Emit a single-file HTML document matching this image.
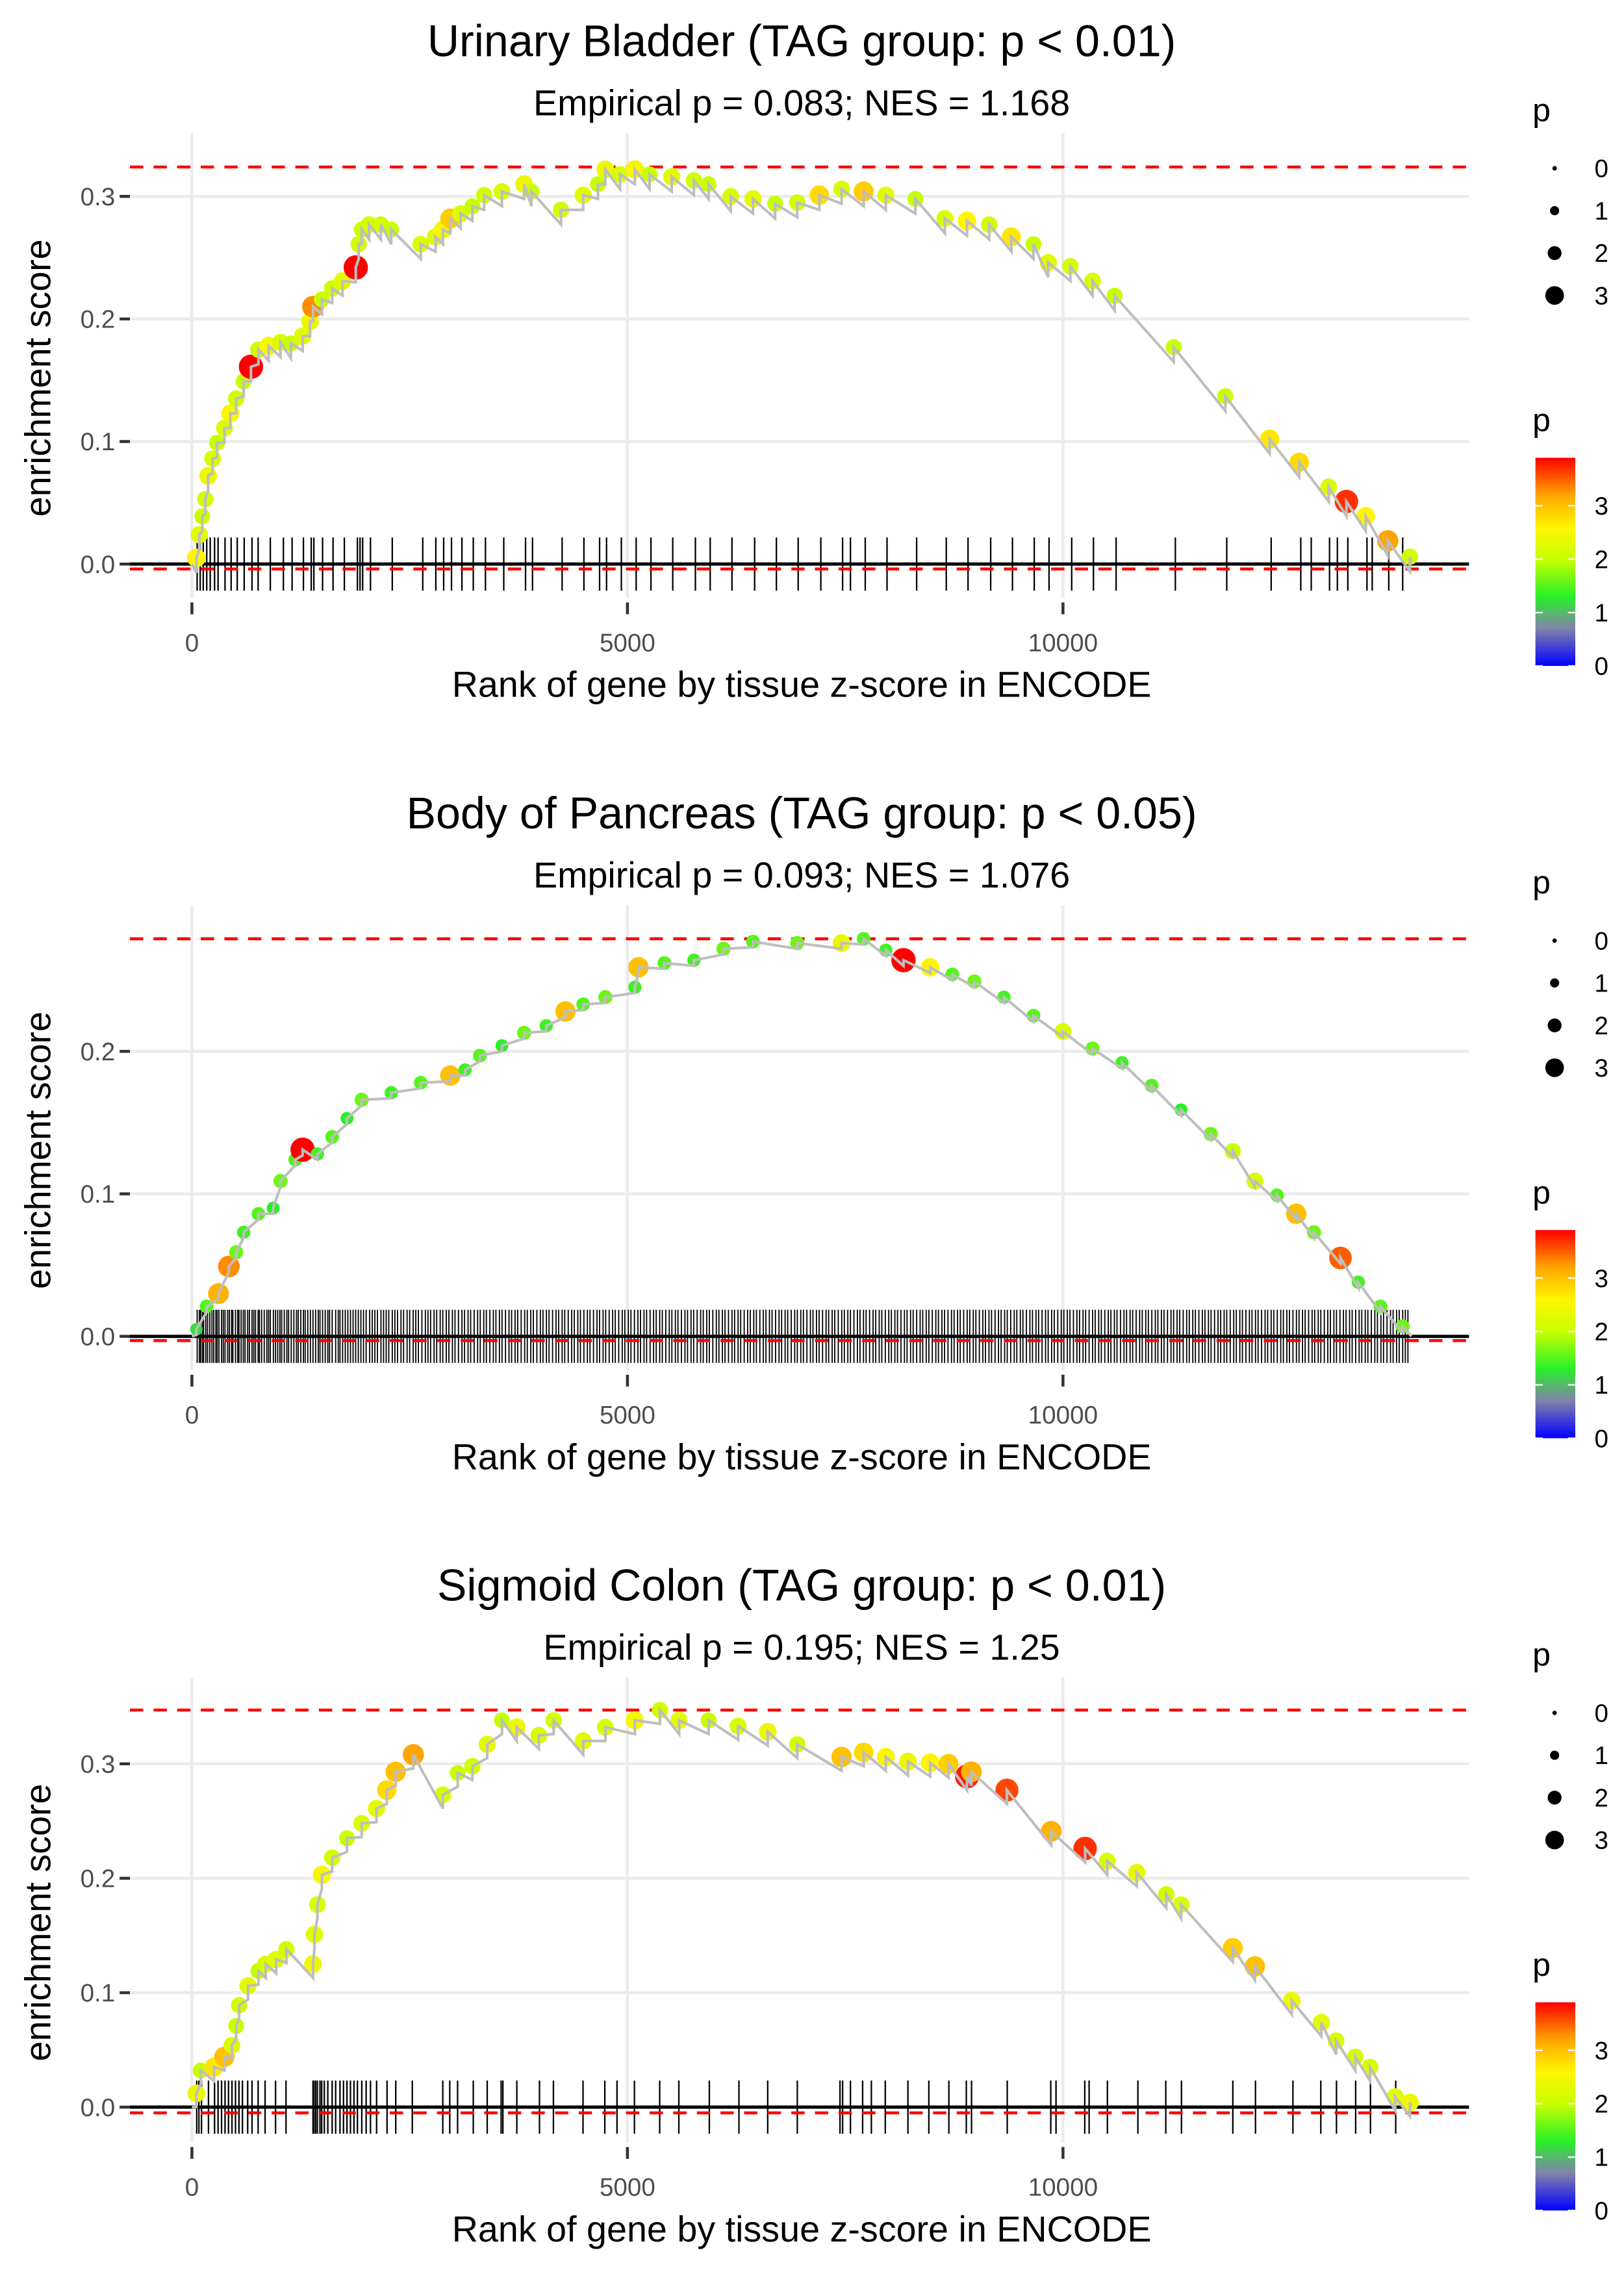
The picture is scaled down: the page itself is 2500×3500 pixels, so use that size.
<!DOCTYPE html>
<html><head><meta charset="utf-8"><style>html,body{margin:0;padding:0;background:#fff}svg{display:block}</style></head>
<body>
<svg id="chart" xmlns="http://www.w3.org/2000/svg" width="2500" height="3500" viewBox="0 0 1100 1540" font-family="Liberation Sans, sans-serif"></svg>
<script>
// ---------- Panel 1: Urinary Bladder ----------
const p1Ranks=[51,85,119,153,186,237,288,373,441,508,593,678,763,881,1017,1136,1271,1356,1390,1492,1610,1729,1881,1915,1949,2034,2169,2288,2627,2797,2881,2966,3085,3220,3356,3559,3814,3898,4237,4492,4661,4746,4915,5085,5254,5508,5763,5932,6186,6441,6695,6949,7203,7458,7712,7966,8305,8644,8898,9153,9407,9661,9831,10085,10339,10593,11271,11864,12373,12712,13051,13254,13475,13729,13983];
const p1ES=[.005,.024,.039,.053,.072,.086,.099,.111,.123,.135,.149,.161,.175,.178,.181,.180,.186,.198,.210,.216,.225,.231,.242,.261,.273,.277,.277,.273,.261,.267,.273,.282,.286,.292,.301,.304,.310,.304,.289,.301,.310,.322,.318,.322,.318,.316,.313,.310,.300,.298,.294,.295,.301,.306,.304,.301,.298,.282,.280,.277,.267,.261,.246,.243,.231,.219,.177,.137,.102,.083,.063,.051,.039,.019,.006];
const p1P=[2.6,2.3,2.0,2.1,2.4,2.2,2.0,2.2,2.5,2.1,2.0,3.9,2.1,2.5,2.2,2.0,2.3,2.4,3.3,2.0,2.1,2.3,3.9,2.1,2.0,2.2,2.1,2.0,2.2,2.3,2.5,2.9,2.2,2.0,2.1,2.2,2.4,2.0,2.1,2.3,2.0,2.4,2.2,2.5,2.0,2.3,2.1,2.0,2.2,2.3,2.0,2.1,2.8,2.2,2.9,2.3,2.0,2.2,2.6,2.1,2.7,2.0,2.3,2.1,2.2,2.0,2.0,2.0,2.7,2.8,2.2,3.7,2.6,3.2,2.1];
const p1Ticks=[60,95,130,170,210,260,300,380,450,520,600,690,760,900,1050,1150,1280,1370,1400,1500,1620,1750,1900,1930,1960,2050,2300,2650,2800,2890,2980,3100,3230,3370,3580,3830,3910,4250,4500,4680,4760,4930,5100,5270,5520,5780,5950,6200,6460,6710,6960,7220,7470,7560,7730,7980,8320,8660,8910,9170,9420,9670,9840,10100,10350,10610,11290,11880,12390,12730,12850,13060,13150,13270,13490,13550,13740,13900];
// ---------- Panel 2: Body of Pancreas ----------
const p2Ranks=[51,169,305,424,508,593,763,932,1017,1186,1271,1441,1610,1780,1949,2288,2627,2966,3136,3305,3559,3814,4068,4288,4492,4746,5085,5127,5424,5763,6102,6441,6949,7458,7712,7966,8169,8475,8729,8983,9322,9661,10000,10339,10678,11017,11356,11695,11949,12203,12458,12678,12881,13186,13390,13644,13898];
const p2ES=[.005,.021,.030,.049,.059,.073,.086,.090,.109,.124,.131,.128,.140,.153,.166,.171,.178,.183,.187,.197,.204,.213,.218,.228,.233,.238,.245,.259,.262,.264,.272,.277,.276,.276,.279,.271,.264,.259,.254,.249,.238,.225,.214,.202,.192,.176,.159,.142,.130,.109,.099,.086,.073,.055,.038,.021,.007];
const p2P=[1.2,1.5,3.1,3.3,1.6,1.4,1.5,1.3,1.6,1.5,3.9,1.4,1.5,1.3,1.6,1.4,1.5,3.0,1.4,1.5,1.3,1.6,1.4,3.0,1.5,1.6,1.4,3.0,1.5,1.4,1.6,1.5,1.6,2.4,1.5,1.4,3.9,2.6,1.5,1.6,1.4,1.5,2.2,1.6,1.4,1.5,1.3,1.6,2.0,2.2,1.5,3.0,1.6,3.5,1.4,1.5,1.6];
const p2Ticks=[60,85,100,120,135,160,180,205,230,250,275,290,310,340,360,380,410,430,455,470,500,525,540,565,590,610,640,660,690,710,730,760,775,800,830,860,880,900,935,960,985,1010,1030,1060,1090,1110,1140,1170,1200,1220,1250,1280,1300,1330,1360,1390,1420,1450,1470,1500,1530,1560,1580,1610,1650,1680,1700,1730,1760,1790,1820,1850,1880,1910,1940,1970,2000,2040,2070,2100,2130,2170,2200,2230,2260,2300,2330,2360,2400,2430,2470,2500,2540,2570,2600,2640,2680,2710,2740,2780,2810,2850,2880,2920,2950,2990,3020,3060,3100,3130,3170,3200,3240,3280,3310,3350,3380,3420,3460,3490,3530,3560,3600,3640,3670,3710,3740,3780,3820,3850,3890,3920,3960,4000,4030,4070,4100,4140,4180,4210,4250,4280,4320,4360,4390,4430,4460,4500,4540,4570,4610,4650,4680,4720,4750,4790,4830,4860,4900,4940,4970,5010,5040,5080,5120,5150,5190,5220,5260,5300,5330,5370,5400,5440,5480,5510,5550,5580,5620,5660,5690,5730,5760,5800,5840,5870,5910,5940,5980,6020,6050,6090,6120,6160,6200,6230,6270,6300,6340,6380,6410,6450,6480,6520,6560,6590,6630,6660,6700,6740,6770,6810,6840,6880,6920,6950,6990,7020,7060,7100,7130,7170,7200,7240,7280,7310,7350,7380,7420,7460,7490,7530,7560,7600,7640,7670,7710,7740,7780,7820,7850,7890,7920,7960,8000,8030,8070,8100,8140,8180,8210,8250,8280,8320,8360,8390,8430,8460,8500,8540,8570,8610,8640,8680,8720,8750,8790,8820,8860,8900,8930,8970,9000,9040,9080,9110,9150,9180,9220,9260,9290,9330,9360,9400,9440,9470,9510,9540,9580,9620,9650,9690,9720,9760,9800,9830,9870,9900,9940,9980,10010,10050,10080,10120,10160,10190,10230,10260,10300,10340,10370,10410,10440,10480,10520,10550,10590,10620,10660,10700,10730,10770,10800,10840,10880,10910,10950,10980,11020,11060,11090,11130,11160,11200,11240,11270,11310,11340,11380,11420,11450,11490,11520,11560,11600,11630,11670,11700,11740,11780,11810,11850,11880,11920,11960,11990,12030,12060,12100,12140,12170,12210,12240,12280,12320,12350,12390,12420,12460,12500,12530,12570,12600,12640,12680,12710,12750,12780,12820,12860,12890,12930,12960,13000,13040,13070,13110,13140,13180,13220,13250,13290,13320,13360,13400,13430,13470,13500,13540,13580,13610,13650,13680,13720,13760,13790,13830,13860,13900,13930,13960];
// ---------- Panel 3: Sigmoid Colon ----------
const p3Ranks=[51,102,254,373,458,508,542,644,763,847,966,1085,1390,1407,1441,1492,1610,1780,1949,2119,2237,2339,2542,2881,3051,3220,3390,3559,3729,3983,4153,4492,4746,5085,5373,5593,5932,6271,6610,6949,7458,7712,7966,8220,8475,8686,8898,8949,9356,9864,10254,10508,10847,11186,11356,11949,12203,12627,12966,13136,13356,13525,13814,13983];
const p3ES=[.012,.032,.035,.044,.054,.071,.089,.106,.119,.125,.129,.138,.125,.151,.177,.203,.218,.235,.248,.261,.277,.293,.308,.273,.292,.298,.317,.338,.332,.325,.338,.320,.332,.338,.347,.338,.338,.333,.328,.317,.306,.310,.306,.302,.301,.300,.289,.293,.277,.241,.226,.215,.205,.186,.177,.139,.123,.093,.074,.058,.044,.035,.009,.004];
const p3P=[2.4,2.0,2.7,3.0,2.2,2.0,2.1,2.3,2.0,2.2,2.3,2.1,2.4,2.3,2.2,2.5,2.1,2.0,2.2,2.3,2.8,3.0,3.2,2.2,2.0,2.1,2.3,2.0,2.4,2.2,2.1,2.3,2.2,2.5,2.1,2.3,2.0,2.2,2.4,2.1,3.0,2.8,2.5,2.4,2.6,2.9,3.8,3.1,3.6,3.1,3.7,2.2,2.3,2.1,2.2,2.9,3.0,2.4,2.3,2.2,2.1,2.2,2.3,2.4];
const p3Ticks=[55,80,110,190,260,300,340,380,420,460,500,540,580,640,690,760,840,960,1080,1390,1400,1420,1440,1470,1490,1520,1560,1610,1650,1700,1740,1780,1820,1860,1900,1950,2000,2050,2120,2240,2340,2530,2880,2960,3050,3230,3390,3550,3570,3730,3990,4150,4490,4740,4880,5080,5370,5590,5940,6280,6610,6950,7440,7470,7560,7700,7800,7960,8220,8460,8690,8890,8950,9360,9860,9920,10250,10300,10510,10860,11180,11360,11950,12210,12640,12960,13140,13360,13530,13820];

const titles=["Urinary Bladder (TAG group: p < 0.01)","Body of Pancreas (TAG group: p < 0.05)","Sigmoid Colon (TAG group: p < 0.01)"];
const subtitles=["Empirical p = 0.083; NES = 1.168","Empirical p = 0.093; NES = 1.076","Empirical p = 0.195; NES = 1.25"];
const maxES=[0.324,0.279,0.347];
const minES=[-0.004,-0.003,-0.005];
const stepSize=[0.012,0.004,0.012];
const yTicks=[0,0.1,0.2,0.3];
const yTickLabels=["0.0","0.1","0.2","0.3"];
const xTicks=[0,5000,10000];
const xTickLabels=["0","5000","10000"];
const sizeBreaks=[0,1,2,3];
const colorBreaks=[0,1,2,3];

const panels=[
 {ranks:p1Ranks,es:p1ES,p:p1P,ticks:p1Ticks,off:0,y0:382,k:830,tw:1.0},
 {ranks:p2Ranks,es:p2ES,p:p2P,ticks:p2Ticks,off:523,y0:905,k:965,tw:0.8},
 {ranks:p3Ranks,es:p3ES,p:p3P,ticks:p3Ticks,off:1046,y0:1427,k:775,tw:1.0}
];
const NS="http://www.w3.org/2000/svg";
const svg=document.getElementById('chart');
function mk(tag,attrs,parent,text){const e=document.createElementNS(NS,tag);for(const a in attrs)e.setAttribute(a,attrs[a]);if(text!==undefined)e.textContent=text;(parent||svg).appendChild(e);return e;}
const xS=r=>130+r*0.059;
const stops=[[0,[0,0,255]],[0.7,[130,130,170]],[1.3,[40,240,40]],[2.0,[200,255,0]],[2.6,[255,245,0]],[3.2,[255,165,0]],[3.9,[255,0,0]]];
function col(p){if(p<=stops[0][0])return 'rgb(0,0,255)';for(let i=1;i<stops.length;i++){if(p<=stops[i][0]){const a=stops[i-1],b=stops[i],t=(p-a[0])/(b[0]-a[0]);const c=a[1].map((v,j)=>Math.round(v+(b[1][j]-v)*t));return 'rgb('+c.join(',')+')';}}return 'rgb(255,0,0)';}
const rS=p=>2.4+p*1.5;
const rL=p=>1.5+p*1.6;

panels.forEach((P,i)=>{
  const o=P.off, yS=v=>P.y0-v*P.k;
  const g=mk('g',{});
  
  
  const t=mk('text',{x:543,y:38+o,'font-size':30,'text-anchor':'middle',fill:'#000'},g,titles[i]);
  
  const st=mk('text',{x:543,y:78+o,'font-size':24.5,'text-anchor':'middle',fill:'#000'},g,subtitles[i]);
  
  yTicks.forEach((v,j)=>{
    if(yS(v)<95+o) return;
    const gl=mk('line',{x1:88,x2:995,y1:yS(v),y2:yS(v),stroke:'#ebebeb','stroke-width':2},g);
    
    mk('line',{x1:81,x2:88,y1:yS(v),y2:yS(v),stroke:'#333','stroke-width':2},g);
    const tl=mk('text',{x:78,y:yS(v)+6,'font-size':17,'text-anchor':'end',fill:'#4d4d4d'},g,yTickLabels[j]);
    
  });
  xTicks.forEach((v,j)=>{
    const gl=mk('line',{x1:xS(v),x2:xS(v),y1:90+o,y2:405+o,stroke:'#ebebeb','stroke-width':2},g);
    
    mk('line',{x1:xS(v),x2:xS(v),y1:408+o,y2:416+o,stroke:'#333','stroke-width':2},g);
    const tl=mk('text',{x:xS(v),y:441+o,'font-size':17,'text-anchor':'middle',fill:'#4d4d4d'},g,xTickLabels[j]);
    
  });
  const yt=mk('text',{x:0,y:0,'font-size':24.5,'text-anchor':'middle',fill:'#000',transform:'translate(34,'+(256+o)+') rotate(-90)'},g,'enrichment score');
  
  const xt=mk('text',{x:543,y:472+o,'font-size':24.5,'text-anchor':'middle',fill:'#000'},g,'Rank of gene by tissue z-score in ENCODE');
  
  P.ticks.forEach(r=>{
    const l=mk('line',{x1:xS(r),x2:xS(r),y1:P.y0-18,y2:P.y0+18,stroke:'#000','stroke-width':P.tw},g);
    
  });
  const zl=mk('line',{x1:88,x2:995,y1:P.y0,y2:P.y0,stroke:'#000','stroke-width':2.2},g);
  
  [maxES[i],minES[i]].forEach((v,j)=>{
    const d=mk('line',{x1:88,x2:995,y1:yS(v),y2:yS(v),stroke:'#ff0000','stroke-width':2,'stroke-dasharray':'9,7'},g);
    
  });
  P.ranks.forEach((r,j)=>{
    const c=mk('circle',{cx:xS(r),cy:yS(P.es[j]),r:rS(P.p[j]),fill:col(P.p[j])},g);
    
  });
  // sawtooth running-sum line
  let pts=[xS(0)+','+yS(0)];
  P.ranks.forEach((r,j)=>{
    const low=P.es[j]-stepSize[i];
    pts.push(xS(r)+','+yS(low));
    pts.push(xS(r)+','+yS(P.es[j]));
  });
  pts.push(xS(14000)+','+yS(0));
  const pl=mk('polyline',{points:pts.join(' '),fill:'none',stroke:'#bebebe','stroke-width':1.8},g);
  
  const lg=mk('g',{},g);
  
  mk('text',{x:1038,y:82+o,'font-size':22,fill:'#000'},lg,'p');
  sizeBreaks.forEach((v,j)=>{
    const yy=114+o+j*28.7;
    const c=mk('circle',{cx:1053,cy:yy,r:rL(v),fill:'#000'},lg);
    
    mk('text',{x:1080,y:yy+6,'font-size':17,fill:'#000'},lg,String(v));
  });
  const cg=mk('g',{},g);
  
  mk('text',{x:1038,y:292+o,'font-size':22,fill:'#000'},cg,'p');
  const gid='grad'+i;
  const defs=mk('defs',{},cg);
  const lgd=mk('linearGradient',{id:gid,x1:0,y1:1,x2:0,y2:0},defs);
  stops.forEach(s=>mk('stop',{offset:(s[0]/3.9),'stop-color':'rgb('+s[1].join(',')+')'},lgd));
  const barTop=310+o, barBot=451+o, per=(barBot-barTop)/3.9;
  const bar=mk('rect',{x:1040,y:barTop,width:27,height:barBot-barTop,fill:'url(#'+gid+')'},cg);
  
  colorBreaks.forEach(v=>{
    const yy=barBot-v*per;
    mk('line',{x1:1040,x2:1045,y1:yy,y2:yy,stroke:'#fff','stroke-width':1},cg);
    mk('line',{x1:1062,x2:1067,y1:yy,y2:yy,stroke:'#fff','stroke-width':1},cg);
    mk('text',{x:1080,y:yy+6,'font-size':17,fill:'#000'},cg,String(v));
  });
});
</script>
</body></html>
